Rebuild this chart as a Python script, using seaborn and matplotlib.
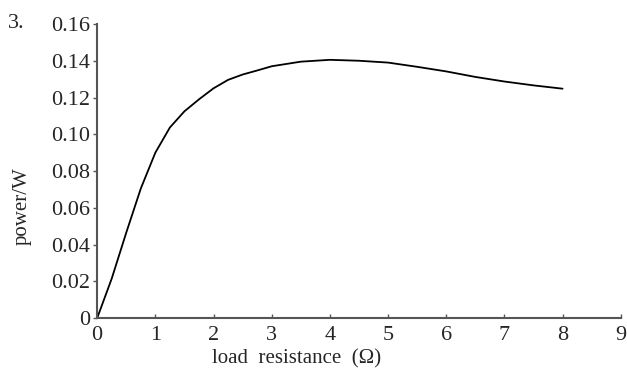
import matplotlib
matplotlib.use("Agg")
import matplotlib.pyplot as plt
import seaborn as sns

# load resistance (ohm) and power (W)
resistance = [0, 0.25, 0.5, 0.75, 1.0, 1.25, 1.5, 1.75, 2.0, 2.25, 2.5, 2.75,
              3.0, 3.5, 4.0, 4.5, 5.0, 5.5, 6.0, 6.5, 7.0, 7.5, 8.0]
power = [0, 0.0215, 0.0465, 0.0705, 0.090, 0.1037, 0.1125, 0.119, 0.125,
         0.1296, 0.1325, 0.1347, 0.137, 0.1395, 0.1405, 0.140, 0.139, 0.1367,
         0.1342, 0.1312, 0.1287, 0.1266, 0.1248]

x_ticks = list(range(0, 10))
y_ticks = [0, 0.02, 0.04, 0.06, 0.08, 0.10, 0.12, 0.14, 0.16]
y_tick_labels = ["0", "0.02", "0.04", "0.06", "0.08", "0.10", "0.12", "0.14", "0.16"]

sns.set_style("ticks")
plt.rcParams['font.family'] = ['Liberation Serif', 'DejaVu Serif']

fig = plt.figure(figsize=(6.27, 3.69), dpi=100)
ax = fig.add_axes([0.155, 0.138, 0.835, 0.797])

sns.lineplot(x=resistance, y=power, ax=ax, color="black", linewidth=1.3)

ax.set_xlim(0, 9)
ax.set_ylim(0, 0.16)
ax.set_xticks(x_ticks)
ax.set_yticks(y_ticks)
ax.set_yticklabels(y_tick_labels)

for side in ["top", "right"]:
    ax.spines[side].set_visible(False)
for side in ["left", "bottom"]:
    ax.spines[side].set_color("#555555")
    ax.spines[side].set_linewidth(1.5)

ax.tick_params(axis="y", direction="out", length=3, width=1, color="#555555",
               labelsize=16, pad=2)
ax.tick_params(axis="x", direction="in", length=3, width=1, color="#555555",
               labelsize=16, pad=6)

ax.set_xlabel("load  resistance  (Ω)", fontsize=15)
ax.set_ylabel("power/W", fontsize=15)
ax.xaxis.set_label_coords(0.38, -0.105)
ax.yaxis.set_label_coords(-0.125, 0.38)

fig.text(0.012, 0.925, "3.", fontsize=16)

fig.savefig("out.png", dpi=100)
